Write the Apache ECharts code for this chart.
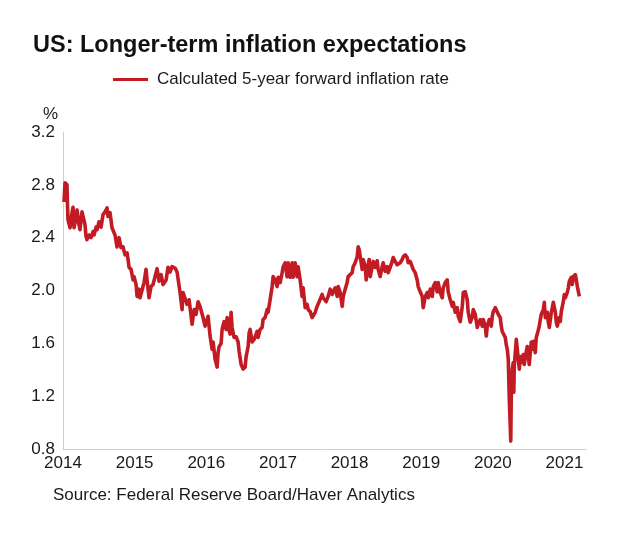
<!DOCTYPE html>
<html>
<head>
<meta charset="utf-8">
<script src="https://cdn.jsdelivr.net/npm/echarts@6/dist/echarts.min.js"></script>
<style>html,body{margin:0;padding:0;background:#fff}#c{width:630px;height:536px}</style>
</head>
<body>
<div id="c"></div>
<script>
const titleText = 'US: Longer-term inflation expectations';
const seriesName = 'Calculated 5-year forward inflation rate';
const sourceText = 'Source: Federal Reserve Board/Haver Analytics';
const unitText = '%';
const yTicks = [0.8, 1.2, 1.6, 2.0, 2.4, 2.8, 3.2];
const xTicks = [2014, 2015, 2016, 2017, 2018, 2019, 2020, 2021];

const years = [
2014.014,2014.028,2014.056,2014.062,2014.070,2014.098,2014.126,2014.140,2014.154,2014.182,2014.196,2014.223,2014.237,2014.265,2014.279,2014.307,2014.321,2014.335,2014.363,2014.391,2014.419,2014.433,2014.461,2014.475,2014.503,2014.531,2014.559,2014.587,2014.615,2014.628,2014.656,2014.684,2014.698,2014.726,2014.754,2014.782,2014.810,2014.838,2014.866,2014.894,2014.908,2014.922,2014.950,2014.978,2014.992,
2015.020,2015.034,2015.061,2015.075,2015.117,2015.131,2015.159,2015.173,2015.201,2015.229,2015.257,2015.285,2015.313,2015.341,2015.369,2015.397,2015.439,2015.466,2015.494,2015.522,2015.564,2015.592,2015.634,2015.662,2015.676,2015.732,2015.760,2015.802,2015.830,2015.858,2015.885,2015.913,2015.955,2015.983,
2016.025,2016.053,2016.081,2016.095,2016.123,2016.151,2016.165,2016.179,2016.207,2016.221,2016.249,2016.277,2016.291,2016.304,2016.332,2016.346,2016.360,2016.388,2016.416,2016.444,2016.458,2016.486,2016.514,2016.542,2016.556,2016.584,2016.598,2016.612,2016.640,2016.668,2016.709,2016.723,2016.751,2016.779,2016.793,2016.821,2016.849,2016.863,2016.891,2016.919,2016.933,2016.961,2016.989,
2017.003,2017.031,2017.059,2017.073,2017.101,2017.128,2017.142,2017.170,2017.198,2017.212,2017.240,2017.268,2017.282,2017.310,2017.338,2017.352,2017.380,2017.408,2017.422,2017.450,2017.478,2017.492,2017.520,2017.547,2017.575,2017.617,2017.631,2017.673,2017.701,2017.729,2017.757,2017.771,2017.799,2017.827,2017.841,2017.869,2017.897,2017.911,2017.939,2017.966,2017.980,
2018.008,2018.036,2018.050,2018.078,2018.106,2018.120,2018.134,2018.162,2018.176,2018.190,2018.218,2018.232,2018.246,2018.274,2018.288,2018.316,2018.330,2018.358,2018.385,2018.399,2018.427,2018.455,2018.469,2018.497,2018.525,2018.539,2018.567,2018.595,2018.609,2018.637,2018.665,2018.679,2018.707,2018.735,2018.749,2018.777,2018.804,2018.818,2018.846,2018.874,2018.888,2018.916,2018.944,2018.958,2018.986,
2019.014,2019.028,2019.056,2019.084,2019.098,2019.126,2019.154,2019.168,2019.196,2019.223,2019.237,2019.265,2019.293,2019.307,2019.335,2019.363,2019.377,2019.405,2019.433,2019.447,2019.475,2019.503,2019.517,2019.545,2019.573,2019.587,2019.615,2019.642,2019.656,2019.684,2019.712,2019.726,2019.754,2019.782,2019.796,2019.824,2019.852,2019.866,2019.894,2019.908,2019.922,2019.950,2019.978,2019.992,
2020.006,2020.034,2020.061,2020.075,2020.103,2020.117,2020.131,2020.145,2020.173,2020.187,2020.201,2020.215,2020.229,2020.250,2020.257,2020.271,2020.285,2020.292,2020.299,2020.313,2020.327,2020.341,2020.369,2020.383,2020.397,2020.425,2020.439,2020.453,2020.480,2020.494,2020.508,2020.536,2020.550,2020.564,2020.592,2020.606,2020.620,2020.648,2020.662,2020.676,2020.704,2020.718,2020.732,2020.760,2020.774,2020.788,2020.816,2020.830,2020.844,2020.872,2020.885,2020.899,2020.927,2020.941,2020.955,2020.983,2020.997,
2021.011,2021.039,2021.053,2021.067,2021.095,2021.109,2021.123,2021.151,2021.165,2021.179,2021.207
];

const rates = [
2.67,2.815,2.80,2.66,2.535,2.475,2.59,2.63,2.475,2.55,2.61,2.50,2.46,2.595,2.61,2.50,2.41,2.385,2.42,2.40,2.445,2.42,2.48,2.46,2.52,2.48,2.575,2.595,2.625,2.56,2.59,2.475,2.48,2.42,2.33,2.40,2.325,2.33,2.27,2.285,2.235,2.175,2.16,2.08,2.105,
2.045,1.955,2.01,1.945,2.03,2.06,2.16,2.08,1.945,2.03,2.045,2.105,2.165,2.07,2.12,2.045,2.08,2.175,2.14,2.18,2.17,2.14,1.985,1.855,1.985,1.895,1.93,1.745,1.855,1.82,1.915,1.88,1.795,1.73,
1.805,1.655,1.555,1.61,1.48,1.42,1.53,1.575,1.60,1.705,1.765,1.705,1.795,1.72,1.67,1.835,1.72,1.645,1.65,1.61,1.54,1.44,1.405,1.42,1.50,1.575,1.68,1.705,1.61,1.63,1.69,1.645,1.705,1.72,1.78,1.795,1.855,1.835,1.93,2.03,2.105,2.08,2.03,
2.10,2.06,2.135,2.18,2.21,2.105,2.21,2.10,2.21,2.10,2.21,2.105,2.18,2.08,1.955,2.02,1.87,1.895,1.855,1.84,1.795,1.78,1.835,1.88,1.915,1.97,1.945,1.915,1.955,2.01,1.97,1.99,2.02,1.955,2.03,1.985,1.88,1.955,2.01,2.06,2.105,
2.12,2.135,2.18,2.21,2.255,2.33,2.31,2.21,2.16,2.235,2.18,2.08,2.16,2.235,2.105,2.18,2.22,2.175,2.225,2.16,2.105,2.18,2.21,2.145,2.18,2.135,2.175,2.22,2.25,2.22,2.195,2.18,2.21,2.235,2.255,2.27,2.25,2.21,2.22,2.18,2.16,2.135,2.08,2.03,1.99,
1.955,1.87,1.955,1.985,1.945,2.01,1.955,2.03,2.06,1.99,2.06,1.985,1.945,2.02,2.06,2.08,1.99,1.93,1.88,1.91,1.835,1.87,1.805,1.765,1.88,1.985,1.99,1.93,1.835,1.76,1.795,1.855,1.82,1.72,1.745,1.78,1.73,1.78,1.73,1.655,1.73,1.78,1.73,1.805,
1.84,1.87,1.855,1.82,1.795,1.73,1.69,1.705,1.645,1.59,1.555,1.48,1.18,0.86,1.20,1.405,1.455,1.23,1.425,1.53,1.63,1.555,1.405,1.50,1.455,1.515,1.44,1.50,1.575,1.50,1.44,1.61,1.555,1.615,1.53,1.645,1.67,1.73,1.78,1.82,1.855,1.91,1.795,1.835,1.76,1.72,1.835,1.87,1.91,1.835,1.76,1.73,1.795,1.765,1.84,1.915,1.97,
1.945,1.985,2.02,2.07,2.10,2.045,2.105,2.12,2.08,2.03,1.955
];

const lineColor = '#c21b24';
const font = 'Arial, "Liberation Sans", Helvetica, sans-serif';
const textColor = '#1a1a1a';

const chart = echarts.init(document.getElementById('c'), null, {renderer: 'canvas'});
const data = years.map((y, i) => [y, rates[i]]);

chart.setOption({
  animation: false,
  backgroundColor: '#fff',
  title: {
    text: titleText,
    left: 33,
    top: 34,
    padding: 0,
    textStyle: {fontFamily: font, fontSize: 23.5, fontWeight: 'bold', color: '#111'}
  },
  legend: {
    left: 113,
    top: 71,
    padding: 0,
    itemWidth: 35,
    itemHeight: 3,
    itemGap: 8,
    icon: 'rect',
    data: [seriesName],
    textStyle: {fontFamily: font, fontSize: 17, color: textColor, padding: [0, 0, 0, 4]}
  },
  graphic: [
    {type: 'text', left: 43, top: 106, style: {text: unitText, font: '17px ' + font, fill: textColor}},
    {type: 'text', left: 53, top: 487, style: {text: sourceText, font: '17px ' + font, fill: textColor}}
  ],
  grid: {left: 63, top: 132, right: 44, bottom: 87, containLabel: false},
  xAxis: {
    type: 'value',
    min: 2014,
    max: 2021.3,
    interval: 1,
    axisLine: {show: true, lineStyle: {color: '#cfcfcf', width: 1}},
    axisTick: {show: false},
    splitLine: {show: false},
    axisLabel: {
      margin: 6,
      fontFamily: font, fontSize: 17, color: textColor,
      showMaxLabel: false,
      formatter: v => xTicks.includes(Math.round(v)) && Math.abs(v - Math.round(v)) < 1e-6 ? String(Math.round(v)) : ''
    }
  },
  yAxis: {
    type: 'value',
    min: yTicks[0],
    max: yTicks[yTicks.length - 1],
    interval: 0.4,
    axisLine: {show: true, lineStyle: {color: '#cfcfcf', width: 1}},
    axisTick: {show: false},
    splitLine: {show: false},
    axisLabel: {
      margin: 8,
      fontFamily: font, fontSize: 17, color: textColor,
      formatter: v => v.toFixed(1)
    }
  },
  series: [{
    name: seriesName,
    type: 'line',
    data: data,
    showSymbol: false,
    symbol: 'none',
    color: lineColor,
    lineStyle: {color: lineColor, width: 3.6, join: 'round'}
  }]
});
</script>
</body>
</html>
